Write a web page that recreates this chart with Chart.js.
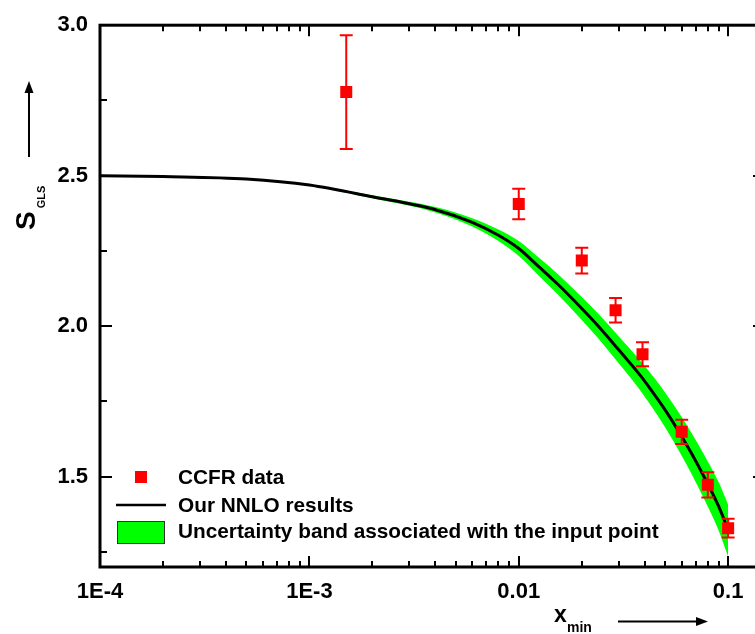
<!DOCTYPE html>
<html>
<head>
<meta charset="utf-8">
<title>GLS sum rule</title>
<script src="https://cdn.jsdelivr.net/npm/chart.js@4"></script>
<style>
  html, body { margin: 0; padding: 0; background: #fff; overflow: hidden; }
  #wrap { width: 790px; height: 634px; }
</style>
</head>
<body>
<div id="wrap"><canvas id="chart" width="790" height="634"></canvas></div>
<script>
// NNLO curve for S_GLS versus x_min
const curveX = [1e-4, 2e-4, 5e-4, 1e-3, 2e-3, 4e-3, 6e-3, 8e-3, 0.01, 0.0125, 0.0155, 0.02, 0.024, 0.03, 0.0373, 0.043, 0.05, 0.058, 0.067, 0.0775, 0.09, 0.1];
const curveY = [2.500, 2.497, 2.489, 2.469, 2.430, 2.387, 2.345, 2.302, 2.258, 2.197, 2.137, 2.059, 2.000, 1.922, 1.844, 1.787, 1.722, 1.651, 1.576, 1.494, 1.402, 1.324];

// Uncertainty band edges (same x grid as the curve)
const bandUpper = [2.501, 2.498, 2.491, 2.472, 2.435, 2.396, 2.359, 2.321, 2.283, 2.227, 2.171, 2.097, 2.041, 1.967, 1.893, 1.840, 1.780, 1.714, 1.644, 1.568, 1.482, 1.407];
const bandLower = [2.499, 2.496, 2.487, 2.466, 2.425, 2.378, 2.331, 2.283, 2.233, 2.167, 2.103, 2.021, 1.959, 1.877, 1.795, 1.734, 1.664, 1.588, 1.508, 1.420, 1.322, 1.234];

// CCFR measurements with errors
const dataX = [0.0015, 0.01, 0.02, 0.029, 0.039, 0.06, 0.08, 0.1];
const dataY = [2.778, 2.406, 2.218, 2.053, 1.907, 1.649, 1.473, 1.329];
const dataErr = [0.189, 0.051, 0.043, 0.041, 0.040, 0.040, 0.042, 0.031];

// Axis ticks
const xTicks = [1e-4, 1e-3, 0.01, 0.1];
const xTickLabels = ['1E-4', '1E-3', '0.01', '0.1'];
const yTicks = [1.5, 2.0, 2.5, 3.0];
const yTickLabels = ['1.5', '2.0', '2.5', '3.0'];
const yMinorTicks = [1.25, 1.75, 2.25, 2.75];

const FONT = '"Liberation Sans", Arial, Helvetica, sans-serif';
const RED = '#ff0000';
const GREEN = '#00ff00';

function toPoints(xs, ys) {
  return xs.map((x, i) => ({ x: x, y: ys[i] }));
}

// Error bars, frame with inward ticks, axis titles and legend
const decorations = {
  id: 'decorations',
  afterDatasetsDraw(chart) {
    const ctx = chart.ctx;
    const xs = chart.scales.x;
    const ys = chart.scales.y;
    ctx.save();
    ctx.strokeStyle = RED;
    ctx.lineWidth = 2;
    dataX.forEach((x, i) => {
      const px = xs.getPixelForValue(x);
      const top = ys.getPixelForValue(dataY[i] + dataErr[i]);
      const bot = ys.getPixelForValue(dataY[i] - dataErr[i]);
      ctx.beginPath();
      ctx.moveTo(px, top); ctx.lineTo(px, bot);
      ctx.moveTo(px - 6.5, top); ctx.lineTo(px + 6.5, top);
      ctx.moveTo(px - 6.5, bot); ctx.lineTo(px + 6.5, bot);
      ctx.stroke();
    });
    ctx.restore();
  },
  afterDraw(chart) {
    const ctx = chart.ctx;
    const a = chart.chartArea;
    const xs = chart.scales.x;
    const ys = chart.scales.y;
    ctx.save();

    // frame
    ctx.strokeStyle = '#000';
    ctx.lineWidth = 3;
    ctx.strokeRect(a.left, a.top, a.right - a.left, a.bottom - a.top);

    // log ticks on bottom and top
    ctx.lineWidth = 2;
    ctx.beginPath();
    for (let d = 1e-4; d < 1; d *= 10) {
      for (let m = 1; m <= 9; m++) {
        const v = m * d;
        if (v < xs.min * 0.999 || v > xs.max) continue;
        const px = Math.round(xs.getPixelForValue(v));
        const len = m === 1 ? 11 : 6;
        ctx.moveTo(px, a.bottom); ctx.lineTo(px, a.bottom - len);
        ctx.moveTo(px, a.top); ctx.lineTo(px, a.top + len);
      }
    }
    // linear ticks on left and right
    yTicks.concat(yMinorTicks).forEach(v => {
      const py = Math.round(ys.getPixelForValue(v));
      const len = yTicks.includes(v) ? 12 : 7;
      ctx.moveTo(a.left, py); ctx.lineTo(a.left + len, py);
      ctx.moveTo(a.right, py); ctx.lineTo(a.right - len, py);
    });
    ctx.stroke();

    // y title with arrow
    ctx.fillStyle = '#000';
    ctx.save();
    ctx.translate(35, 230);
    ctx.rotate(-Math.PI / 2);
    ctx.textAlign = 'left';
    ctx.textBaseline = 'alphabetic';
    ctx.font = 'bold 28px ' + FONT;
    ctx.fillText('S', 0, 0);
    const sw = ctx.measureText('S').width;
    ctx.font = 'bold 11px ' + FONT;
    ctx.fillText('GLS', sw + 3, 10);
    ctx.restore();

    ctx.lineWidth = 2;
    ctx.beginPath();
    ctx.moveTo(29, 157); ctx.lineTo(29, 90);
    ctx.stroke();
    ctx.beginPath();
    ctx.moveTo(29, 81); ctx.lineTo(24.5, 93); ctx.lineTo(33.5, 93);
    ctx.closePath(); ctx.fill();

    // x title with arrow
    ctx.textAlign = 'left';
    ctx.textBaseline = 'alphabetic';
    ctx.font = 'bold 23px ' + FONT;
    ctx.fillText('x', 554, 622);
    ctx.font = 'bold 14px ' + FONT;
    ctx.fillText('min', 567, 632);
    ctx.beginPath();
    ctx.moveTo(618, 621.5); ctx.lineTo(698, 621.5);
    ctx.stroke();
    ctx.beginPath();
    ctx.moveTo(708, 621.5); ctx.lineTo(696, 617); ctx.lineTo(696, 626);
    ctx.closePath(); ctx.fill();

    // legend
    ctx.fillStyle = RED;
    ctx.fillRect(135, 471, 12, 12);
    ctx.strokeStyle = '#000';
    ctx.lineWidth = 2.5;
    ctx.beginPath();
    ctx.moveTo(116, 505); ctx.lineTo(166, 505);
    ctx.stroke();
    ctx.fillStyle = GREEN;
    ctx.fillRect(117, 521, 47, 22);
    ctx.strokeStyle = '#333';
    ctx.lineWidth = 1;
    ctx.strokeRect(117.5, 521.5, 47, 22);

    ctx.fillStyle = '#000';
    ctx.font = 'bold 20.8px ' + FONT;
    ctx.textBaseline = 'middle';
    ctx.fillText('CCFR data', 178, 478);
    ctx.fillText('Our NNLO results', 178, 506);
    ctx.fillText('Uncertainty band associated with the input point', 178, 532);

    ctx.restore();
  }
};

new Chart(document.getElementById('chart'), {
  type: 'line',
  data: {
    datasets: [
      {
        label: 'band upper',
        data: toPoints(curveX, bandUpper),
        borderWidth: 0,
        pointRadius: 0,
        backgroundColor: GREEN,
        fill: '+1',
        cubicInterpolationMode: 'monotone',
        order: 3
      },
      {
        label: 'band lower',
        data: toPoints(curveX, bandLower),
        borderWidth: 0,
        pointRadius: 0,
        fill: false,
        cubicInterpolationMode: 'monotone',
        order: 3
      },
      {
        label: 'Our NNLO results',
        data: toPoints(curveX, curveY),
        borderColor: '#000',
        borderWidth: 3,
        pointRadius: 0,
        fill: false,
        cubicInterpolationMode: 'monotone',
        order: 2
      },
      {
        label: 'CCFR data',
        type: 'scatter',
        data: toPoints(dataX, dataY),
        pointStyle: 'rect',
        pointRadius: 8.5,
        pointBorderWidth: 0,
        backgroundColor: RED,
        borderColor: RED,
        order: 1
      }
    ]
  },
  options: {
    responsive: false,
    animation: false,
    layout: { padding: { top: 22, right: 25, left: 0, bottom: 0 } },
    plugins: { legend: { display: false }, tooltip: { enabled: false } },
    scales: {
      x: {
        type: 'logarithmic',
        min: 1e-4,
        max: 0.15,
        grid: { display: false, drawTicks: false },
        border: { display: false },
        afterBuildTicks: s => { s.ticks = xTicks.map(v => ({ value: v })); },
        afterFit: s => { s.height = 67; },
        ticks: {
          padding: 12,
          color: '#000',
          autoSkip: false,
          maxRotation: 0,
          font: { family: FONT, size: 22, weight: 'bold' },
          callback: (v, i) => xTickLabels[i]
        }
      },
      y: {
        min: 1.2,
        max: 3.0,
        grid: { display: false, drawTicks: false },
        border: { display: false },
        afterBuildTicks: s => { s.ticks = yTicks.map(v => ({ value: v })); },
        afterFit: s => { s.width = 100; },
        ticks: {
          padding: 12,
          color: '#000',
          font: { family: FONT, size: 22, weight: 'bold' },
          callback: (v, i) => yTickLabels[i]
        }
      }
    }
  },
  plugins: [decorations]
});
</script>
</body>
</html>
